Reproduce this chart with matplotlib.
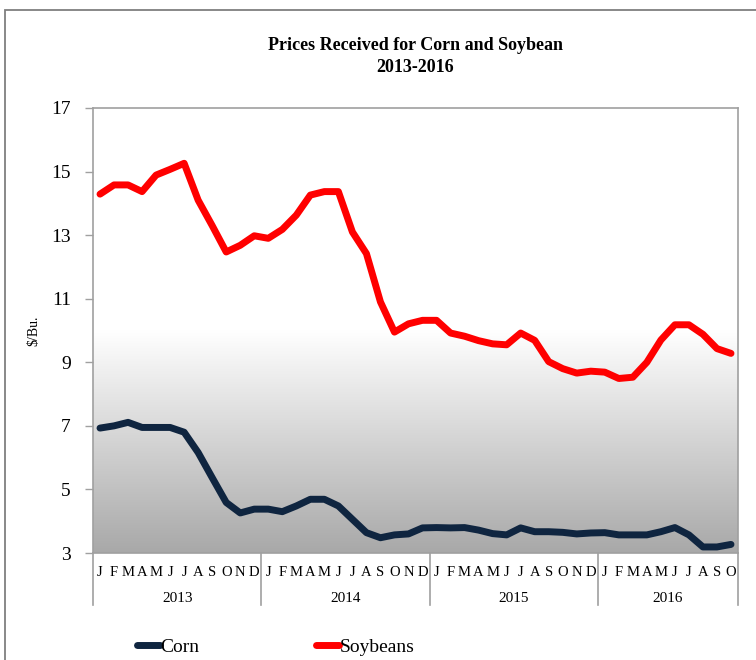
import numpy as np
import matplotlib
matplotlib.use("Agg")
import matplotlib.pyplot as plt
from matplotlib.patches import Rectangle
from matplotlib.lines import Line2D
import matplotlib.transforms as mtransforms

years = ["2013", "2014", "2015", "2016"]
month_letters = ["J", "F", "M", "A", "M", "J", "J", "A", "S", "O", "N", "D"]
months_per_year = [12, 12, 12, 10]

corn = [6.93, 7.0, 7.11, 6.95, 6.95, 6.95, 6.8, 6.16, 5.37, 4.59, 4.26, 4.38,
        4.38, 4.3, 4.48, 4.69, 4.69, 4.48, 4.06, 3.64, 3.48, 3.57, 3.6, 3.79,
        3.8, 3.79, 3.8, 3.72, 3.61, 3.57, 3.79, 3.67, 3.67, 3.65, 3.6, 3.63,
        3.64, 3.57, 3.57, 3.57, 3.67, 3.8, 3.57, 3.19, 3.19, 3.27]
soybeans = [14.29, 14.58, 14.58, 14.37, 14.89, 15.07, 15.26, 14.1, 13.3, 12.47, 12.68, 12.98,
            12.9, 13.18, 13.63, 14.26, 14.37, 14.37, 13.1, 12.42, 10.9, 9.95, 10.21, 10.32,
            10.32, 9.92, 9.82, 9.68, 9.58, 9.55, 9.92, 9.69, 9.02, 8.8, 8.66, 8.72,
            8.69, 8.49, 8.53, 9.0, 9.7, 10.18, 10.18, 9.88, 9.43, 9.28]

W, H = 756, 660
fig = plt.figure(figsize=(W / 100, H / 100), dpi=100)
plt.rcParams['font.family'] = ['Liberation Serif', 'DejaVu Serif']

# figure border
fig.patches.append(Rectangle((5 / W, -0.1), 1.2, 1.1 - 10 / H, transform=fig.transFigure,
                             fill=False, edgecolor="#7f7f7f", linewidth=1.3, zorder=0))

L, R, T, B = 93, 738, 108, 553
ax = fig.add_axes([L / W, 1 - B / H, (R - L) / W, (B - T) / H])
n = len(corn)
x = np.arange(n)
ax.set_xlim(-0.5, n - 0.5)
ax.set_ylim(3, 17)

# gradient background
grad_top_val = 10.0
img = np.ones((256, 1, 3))
vals = np.linspace(3, grad_top_val, 256)
shade = 0.66 + (1.0 - 0.66) * (vals - 3) / (grad_top_val - 3)
img[:, 0, :] = shade[:, None]
ax.imshow(img, extent=(-0.5, n - 0.5, 3, grad_top_val), origin="lower", aspect="auto", zorder=0)

ax.plot(x, corn, color="#0f2540", linewidth=5, solid_capstyle="round", solid_joinstyle="round", zorder=3, label="Corn")
ax.plot(x, soybeans, color="#ff0000", linewidth=5, solid_capstyle="round", solid_joinstyle="round", zorder=3, label="Soybeans")

for s in ax.spines.values():
    s.set_color("#a0a0a0")
    s.set_linewidth(1.2)

ax.set_yticks(np.arange(3, 18, 2))
ax.tick_params(axis="y", direction="out", length=6, width=1, color="#a0a0a0", pad=10, labelsize=14)
ax.set_xticks([])

ax.set_ylabel("$/Bu.", fontsize=10, labelpad=8)

# month & year labels
trans = mtransforms.blended_transform_factory(ax.transData, ax.transAxes)
h_ax = B - T
idx = 0
bounds = [-0.5]
for yr, nm in zip(years, months_per_year):
    for k in range(nm):
        ax.text(idx + k, -(573 - B) / h_ax, month_letters[k], transform=trans, ha="center", va="center", fontsize=10.5)
    ax.text(idx + (nm - 1) / 2, -(598 - B) / h_ax, yr, transform=trans, ha="center", va="center", fontsize=11)
    idx += nm
    bounds.append(idx - 0.5)
for bx in bounds:
    ax.add_line(Line2D([bx, bx], [0, -(605 - B) / h_ax], transform=trans, color="#a0a0a0",
                       linewidth=1.2, clip_on=False))

fig.text((L + R) / 2 / W, 1 - 45 / H, "Prices Received for Corn and Soybean", ha="center", va="center",
         fontsize=13, fontweight="bold")
fig.text((L + R) / 2 / W, 1 - 67 / H, "2013-2016", ha="center", va="center", fontsize=13, fontweight="bold")

leg = fig.legend(loc="center left", bbox_to_anchor=(137 / W, 1 - 647 / H), ncol=2, frameon=False, fontsize=14,
                 handlelength=1.2, handletextpad=0.0, columnspacing=6.0, borderpad=0, borderaxespad=0)

fig.savefig("out.png", dpi=100)
